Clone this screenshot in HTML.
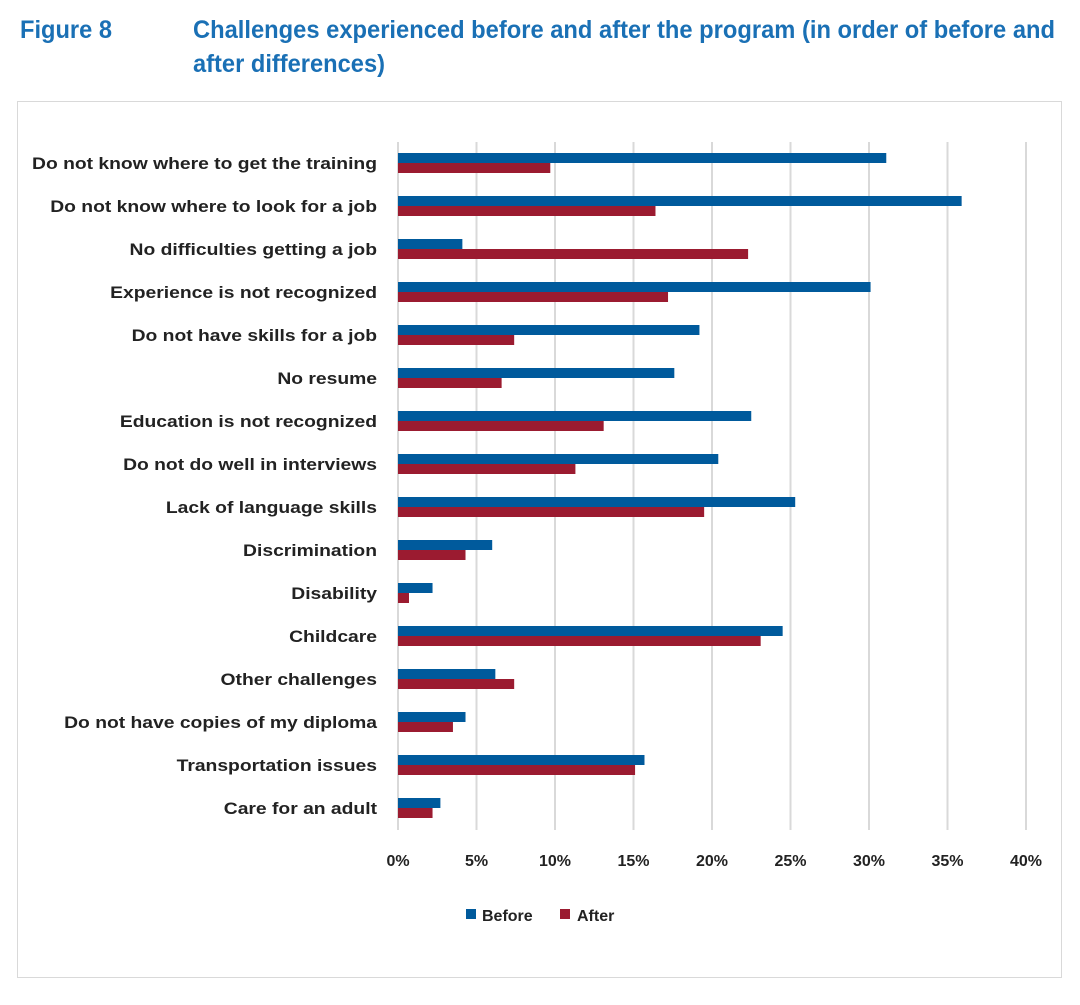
<!DOCTYPE html>
<html><head><meta charset="utf-8"><style>
html,body{margin:0;padding:0;background:#fff;}
svg{display:block;font-family:"Liberation Sans",sans-serif;}
</style></head><body>
<svg id="chart" width="1080" height="1005" viewBox="0 0 1080 1005">
<text x="20" y="38" font-size="25" font-weight="bold" fill="#1a70b5" textLength="92" lengthAdjust="spacingAndGlyphs">Figure 8</text>
<text x="193" y="38" font-size="25" font-weight="bold" fill="#1a70b5" textLength="862" lengthAdjust="spacingAndGlyphs">Challenges experienced before and after the program (in order of before and</text>
<text x="193" y="72" font-size="25" font-weight="bold" fill="#1a70b5" textLength="192" lengthAdjust="spacingAndGlyphs">after differences)</text>
<rect x="17.5" y="101.5" width="1044" height="876" fill="#fff" stroke="#d9d9d9"/>
<g id="grid"></g><g id="bars"></g><g id="labels" transform="translate(377,0) scale(1.17,1) translate(-377,0)"></g><g id="ticks"></g>
<g>
<rect x="466" y="909" width="10" height="10" fill="#005a9c"/>
<text x="482" y="921" font-size="16" font-weight="bold" fill="#222">Before</text>
<rect x="560" y="909" width="10" height="10" fill="#9b1b30"/>
<text x="577" y="921" font-size="16" font-weight="bold" fill="#222">After</text>
</g>
</svg>
<script>
const categories=["Do not know where to get the training","Do not know where to look for a job","No difficulties getting a job","Experience is not recognized","Do not have skills for a job","No resume","Education is not recognized","Do not do well in interviews","Lack of language skills","Discrimination","Disability","Childcare","Other challenges","Do not have copies of my diploma","Transportation issues","Care for an adult"];
const beforeValues=[31.1,35.9,4.1,30.1,19.2,17.6,22.5,20.4,25.3,6.0,2.2,24.5,6.2,4.3,15.7,2.7];
const afterValues=[9.7,16.4,22.3,17.2,7.4,6.6,13.1,11.3,19.5,4.3,0.7,23.1,7.4,3.5,15.1,2.2];
const tickValues=[0,5,10,15,20,25,30,35,40];
const tickLabels=["0%","5%","10%","15%","20%","25%","30%","35%","40%"];
const NS="http://www.w3.org/2000/svg";
const x0=398,x1=1026,vmax=40;
function xs(v){return x0+(x1-x0)*v/vmax;}
function yc(i){return 163+i*43;}
function mk(tag,attrs,parent){const e=document.createElementNS(NS,tag);for(const k in attrs)e.setAttribute(k,attrs[k]);document.getElementById(parent).appendChild(e);return e;}
tickValues.forEach((t,i)=>{
 const l=mk("line",{x1:xs(t),x2:xs(t),y1:142,y2:830,stroke:"#d9d9d9","stroke-width":2},"grid");
 
 
 const tx=mk("text",{x:xs(t),y:866,"text-anchor":"middle","font-size":16,"font-weight":"bold",fill:"#222"},"ticks");
 tx.textContent=tickLabels[i];
 
 
});
categories.forEach((c,i)=>{
 const b=mk("rect",{x:x0,y:yc(i)-10,width:xs(beforeValues[i])-x0,height:10,fill:"#005a9c"},"bars");
 
 
 const a=mk("rect",{x:x0,y:yc(i),width:xs(afterValues[i])-x0,height:10,fill:"#9b1b30"},"bars");
 
 
 const t=mk("text",{x:377,y:yc(i)+6,"text-anchor":"end","font-size":16.5,"font-weight":"bold",fill:"#222"},"labels");
 t.textContent=c;
 
 
});
</script>
</body></html>
